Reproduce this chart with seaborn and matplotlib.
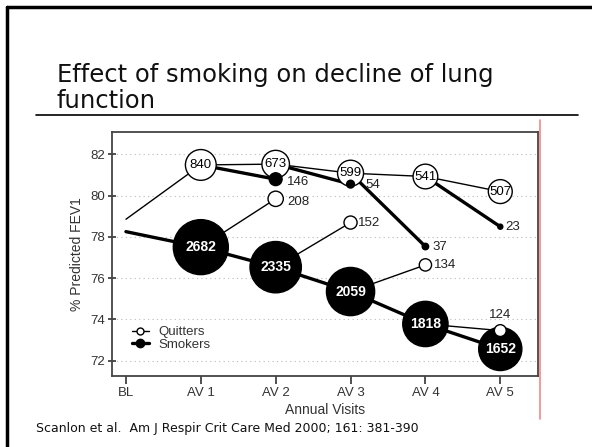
import numpy as np
import pandas as pd
import seaborn as sns
import matplotlib.pyplot as plt
from matplotlib.lines import Line2D

visits = ["BL", "AV 1", "AV 2", "AV 3", "AV 4", "AV 5"]

# sustained quitters (quit before AV 1), BL value then AV 1..AV 5
quit_fev = [78.85, 81.48, 81.52, 81.08, 80.92, 80.19]
quit_n = [840, 673, 599, 541, 507]
# continuing smokers
smoke_fev = [78.25, 77.50, 76.53, 75.35, 73.78, 72.57]
smoke_n = [2682, 2335, 2059, 1818, 1652]
# smokers who quit by the next visit (AV 2..AV 5)
late_quit_fev = [79.84, 78.69, 76.64, 73.46]
late_quit_n = [208, 152, 134, 124]
# quitters who relapsed by the next visit (AV 2..AV 5)
relapse_fev = [80.79, 80.55, 77.53, 78.49]
relapse_n = [146, 54, 37, 23]

sns.set_style("ticks")
plt.rcParams["font.family"] = ["Liberation Sans", "DejaVu Sans"]

x = np.arange(len(visits))
THIN, THICK = 1.0, 2.4
SIZE_MAX = 1568  # marker area (pt^2) for the largest group

fig = plt.figure(figsize=(5.92, 4.47), dpi=100)
ax = fig.add_axes([0.1887, 0.1588, 0.7196, 0.5466])

# main lines
sns.lineplot(x=x, y=quit_fev, color="black", lw=THIN, ax=ax, zorder=2)
sns.lineplot(x=x, y=smoke_fev, color="black", lw=THICK, ax=ax, zorder=2)

# branches to the next visit
for i in range(4):
    ax.plot([x[i + 1], x[i + 2]], [smoke_fev[i + 1], late_quit_fev[i]],
            color="black", lw=THIN, zorder=2)
    ax.plot([x[i + 1], x[i + 2]], [quit_fev[i + 1], relapse_fev[i]],
            color="black", lw=THICK, zorder=2)

groups = [
    (x[1:], quit_fev[1:], quit_n, "white", 3),
    (x[1:], smoke_fev[1:], smoke_n, "black", 3),
    (x[2:], late_quit_fev, late_quit_n, "white", 4),
    (x[2:], relapse_fev, relapse_n, "black", 4),
]
for gx, gy, gn, fc, z in groups:
    df = pd.DataFrame({"visit": gx, "fev": gy, "n": gn})
    sns.scatterplot(data=df, x="visit", y="fev", size="n",
                    sizes=(0, SIZE_MAX), size_norm=(0, max(smoke_n)),
                    color=fc, edgecolor="black", linewidth=1.0,
                    legend=False, zorder=z, ax=ax)

# counts inside the large circles
for xi, yi, n in zip(x[1:], quit_fev[1:], quit_n):
    ax.text(xi, yi, str(n), ha="center", va="center", fontsize=9.5,
            color="black", zorder=6)
for xi, yi, n in zip(x[1:], smoke_fev[1:], smoke_n):
    ax.text(xi, yi, str(n), ha="center", va="center", fontsize=10,
            color="white", fontweight="bold", zorder=6)

# counts beside the small circles
late_off = [(8.5, -2), (5.5, 0), (6, 0), (0, 11)]
for xi, yi, n, off in zip(x[2:], late_quit_fev, late_quit_n, late_off):
    ax.annotate(str(n), (xi, yi), xytext=off, textcoords="offset points",
                ha="center" if off[0] == 0 else "left", va="center",
                fontsize=9.5, color="#222", zorder=6)
rel_off = [(8, -2), (11, -0.5), (5, -0.5), (3.5, 0)]
for xi, yi, n, off in zip(x[2:], relapse_fev, relapse_n, rel_off):
    ax.annotate(str(n), (xi, yi), xytext=off, textcoords="offset points",
                ha="left", va="center", fontsize=9.5, color="#222", zorder=6)

ax.set_xlim(-0.19, 5.5)
ax.set_ylim(71.26, 83.09)
ax.set_xticks(x)
ax.set_xticklabels(visits)
ax.set_yticks([72, 74, 76, 78, 80, 82])
ax.tick_params(axis="y", direction="inout", length=6, width=1.2,
               colors="#333", labelsize=9.5, pad=2)
ax.tick_params(axis="x", direction="out", length=6, width=1.2,
               colors="#333", labelsize=9.5, pad=2)
ax.yaxis.grid(True, linestyle=(0, (1, 3)), color="#bbbbbb", lw=0.8)
for s in ax.spines.values():
    s.set_color("#444")
    s.set_linewidth(1.3)
ax.set_xlabel("Annual Visits", fontsize=10, color="#333", labelpad=3)
ax.set_ylabel("% Predicted FEV1", fontsize=10, color="#333", labelpad=4)

handles = [
    Line2D([], [], color="black", lw=THIN, marker="o", markersize=5,
           markerfacecolor="white", markeredgecolor="black"),
    Line2D([], [], color="black", lw=THICK, marker="o", markersize=6,
           markerfacecolor="black"),
]
ax.legend(handles, ["Quitters", "Smokers"], loc="upper left",
          bbox_to_anchor=(0.047, 0.205), frameon=False, fontsize=9.5,
          borderpad=0, borderaxespad=0, labelspacing=0.05,
          handlelength=1.3, handletextpad=0.7, labelcolor="#333")

# slide decoration
fig.text(0.096, 1 - 82 / 447, "Effect of smoking on decline of lung",
         fontsize=17.5, family="DejaVu Sans", va="baseline", color="#111")
fig.text(0.096, 1 - 108 / 447, "function",
         fontsize=17.5, family="DejaVu Sans", va="baseline", color="#111")
fig.add_artist(Line2D([36 / 592, 578 / 592], [1 - 115 / 447] * 2,
                      color="black", lw=1.2))
fig.add_artist(Line2D([540 / 592] * 2, [1 - 120 / 447, 1 - 419 / 447],
                      color="#f08a8a", lw=1.2))
fig.add_artist(Line2D([6.5 / 592] * 2, [0, 1 - 7 / 447], color="black", lw=2.5))
fig.add_artist(Line2D([6.5 / 592, 1], [1 - 7 / 447] * 2, color="black", lw=2.5))
fig.text(36 / 592, 1 - 432 / 447,
         "Scanlon et al.  Am J Respir Crit Care Med 2000; 161: 381-390",
         fontsize=9, family="DejaVu Sans", va="baseline", color="#111")

fig.savefig("out.png", dpi=100)
